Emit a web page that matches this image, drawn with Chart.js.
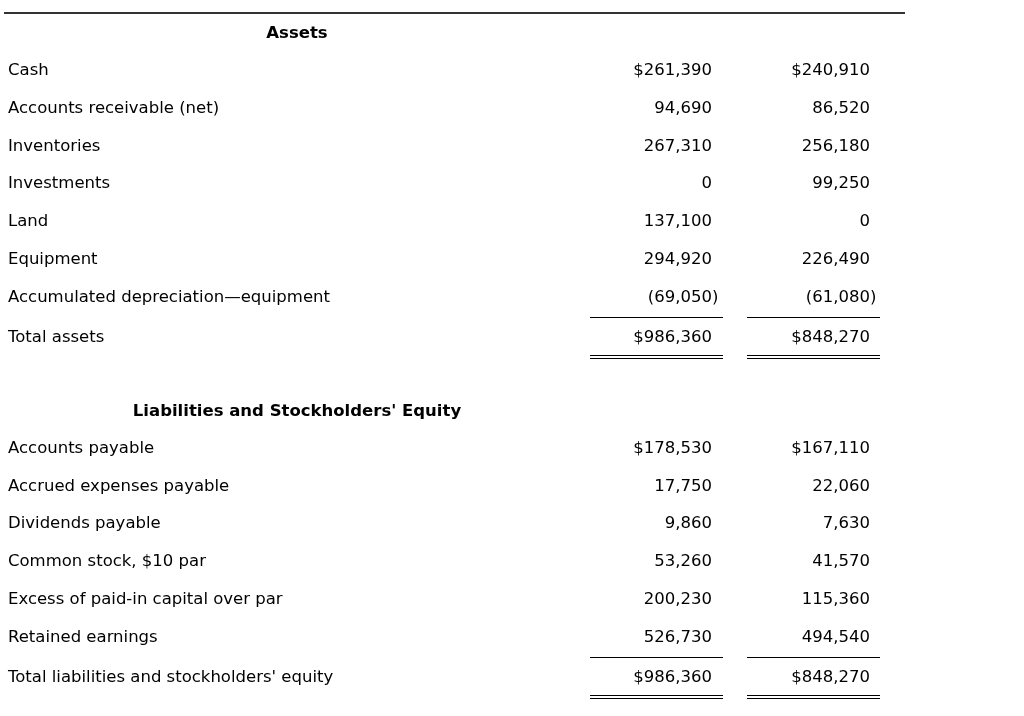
<!DOCTYPE html>
<html lang="en">
<head>
  <meta charset="UTF-8">
  <title>Comparative Balance Sheet</title>
  <script src="https://cdn.jsdelivr.net/npm/chart.js"></script>
  <style>
    body { margin: 0; background: #fff; }
    #wrap { width: 1024px; height: 716px; position: relative; }
  </style>
</head>
<body>
  <div id="wrap"><canvas id="sheet"></canvas></div>

  <script>
    // balance sheet data (current year, prior year)
    const assetItems = ["Cash", "Accounts receivable (net)", "Inventories", "Investments", "Land",
      "Equipment", "Accumulated depreciation\u2014equipment"];
    const assetsCurrent = [261390, 94690, 267310, 0, 137100, 294920, -69050];
    const assetsPrior = [240910, 86520, 256180, 99250, 0, 226490, -61080];
    const assetTotals = [986360, 848270];

    const liabItems = ["Accounts payable", "Accrued expenses payable", "Dividends payable",
      "Common stock, $10 par", "Excess of paid-in capital over par", "Retained earnings"];
    const liabCurrent = [178530, 17750, 9860, 53260, 200230, 526730];
    const liabPrior = [167110, 22060, 7630, 41570, 115360, 494540];
    const liabTotals = [986360, 848270];

    // build the row list for the category axis
    const rows = [];
    function addSection(title, items, cur, prior, totalLabel, totals) {
      rows.push({ label: title, header: true });
      items.forEach((name, i) => rows.push({ label: name, values: [cur[i], prior[i]], dollar: i === 0 }));
      rows.push({ label: totalLabel, values: totals, dollar: true, total: true });
    }
    addSection("Assets", assetItems, assetsCurrent, assetsPrior, "Total assets", assetTotals);
    rows.push({ label: "" });
    addSection("Liabilities and Stockholders' Equity", liabItems, liabCurrent, liabPrior,
      "Total liabilities and stockholders' equity", liabTotals);

    const FONT = "16.5px 'DejaVu Sans', Verdana, sans-serif";
    const BOLD = "bold 16.5px 'DejaVu Sans', Verdana, sans-serif";
    const colRight = [712, 870];
    const colRule = [[590, 723], [747, 880]];

    function fmt(v, dollar) {
      const s = Math.abs(v).toLocaleString("en-US");
      if (v < 0) return "(" + s;
      return (dollar ? "$" : "") + s;
    }

    const tablePlugin = {
      id: "table",
      afterDraw(chart) {
        const ctx = chart.ctx;
        const ys = chart.scales.y;
        ctx.save();
        // top rule
        ctx.strokeStyle = "#333";
        ctx.lineWidth = 2;
        ctx.beginPath();
        ctx.moveTo(4, 13);
        ctx.lineTo(905, 13);
        ctx.stroke();

        ctx.fillStyle = "#000";
        ctx.textBaseline = "middle";
        rows.forEach((row, i) => {
          let py = ys.getPixelForValue(i);
          if (row.total) py += 3;
          if (row.header) {
            ctx.font = BOLD;
            ctx.textAlign = "center";
            ctx.fillText(row.label, 297, py + 1);
            return;
          }
          if (!row.label) return;
          ctx.font = FONT;
          ctx.textAlign = "left";
          ctx.fillText(row.label, 8, py);
          row.values.forEach((v, c) => {
            ctx.textAlign = "right";
            ctx.fillText(fmt(v, row.dollar), colRight[c], py);
            if (v < 0) {
              ctx.textAlign = "left";
              ctx.fillText(")", colRight[c], py);
            }
          });
          if (row.total) {
            const prev = ys.getPixelForValue(i - 1);
            const lineY = Math.round((prev + py) / 2 - 1) + 0.5;
            ctx.strokeStyle = "#000";
            ctx.lineWidth = 1;
            colRule.forEach(([a, b]) => {
              ctx.beginPath();
              ctx.moveTo(a, lineY); ctx.lineTo(b, lineY);
              const d1 = Math.round(py + 17) + 0.5;
              ctx.moveTo(a, d1); ctx.lineTo(b, d1);
              ctx.moveTo(a, d1 + 3); ctx.lineTo(b, d1 + 3);
              ctx.stroke();
            });
          }
        });
        ctx.restore();
      }
    };

    new Chart(document.getElementById("sheet"), {
      type: "scatter",
      data: { labels: rows.map(r => r.label), datasets: [] },
      options: {
        responsive: true,
        maintainAspectRatio: false,
        animation: false,
        layout: { padding: { top: 14, bottom: 22, left: 0, right: 0 } },
        plugins: { legend: { display: false }, tooltip: { enabled: false } },
        scales: {
          x: { type: "linear", min: 0, max: 1024, display: false },
          y: { type: "category", labels: rows.map(r => r.label), offset: true, display: false }
        }
      },
      plugins: [tablePlugin]
    });
  </script>
</body>
</html>
